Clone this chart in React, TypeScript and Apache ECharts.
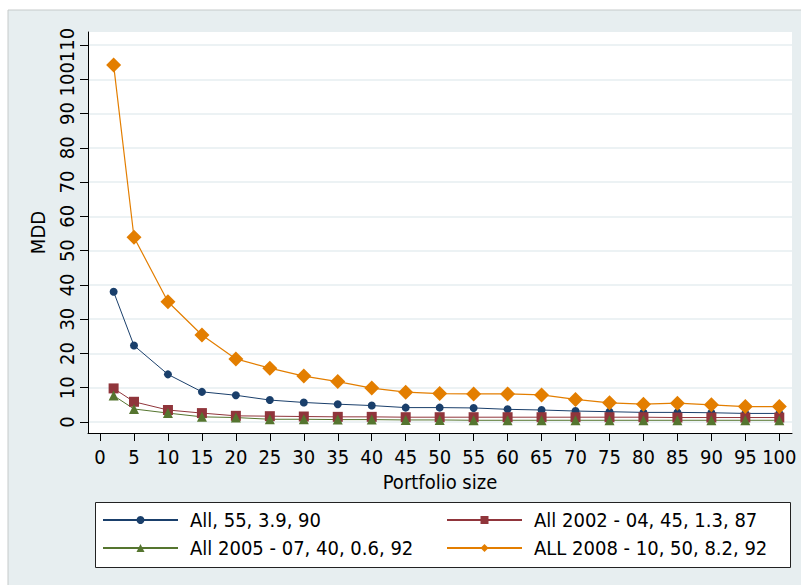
import React, { useEffect, useRef } from "react";
import * as echarts from "echarts";

const portfolioSize = [2, 5, 10, 15, 20, 25, 30, 35, 40, 45, 50, 55, 60, 65, 70, 75, 80, 85, 90, 95, 100];
const allValues = [38.0, 22.3, 13.9, 8.8, 7.8, 6.4, 5.7, 5.2, 4.8, 4.2, 4.2, 4.1, 3.7, 3.5, 3.2, 3.0, 2.8, 2.8, 2.7, 2.5, 2.5];
const all2002Values = [9.8, 5.9, 3.5, 2.6, 1.8, 1.7, 1.6, 1.5, 1.5, 1.4, 1.4, 1.4, 1.4, 1.4, 1.4, 1.4, 1.4, 1.3, 1.3, 1.3, 1.3];
const all2005Values = [7.7, 3.8, 2.6, 1.5, 1.3, 0.8, 0.8, 0.7, 0.7, 0.6, 0.6, 0.5, 0.5, 0.5, 0.5, 0.5, 0.5, 0.5, 0.5, 0.5, 0.5];
const all2008Values = [104.2, 53.9, 35.1, 25.4, 18.4, 15.7, 13.4, 11.8, 9.9, 8.7, 8.3, 8.2, 8.2, 7.9, 6.6, 5.6, 5.2, 5.5, 5.0, 4.5, 4.5];

const xTicks = [0, 5, 10, 15, 20, 25, 30, 35, 40, 45, 50, 55, 60, 65, 70, 75, 80, 85, 90, 95, 100];
const yTicks = [0, 10, 20, 30, 40, 50, 60, 70, 80, 90, 100, 110];

const seriesNames = [
  "All, 55, 3.9, 90",
  "All 2002 - 04, 45, 1.3, 87",
  "All 2005 - 07, 40, 0.6, 92",
  "ALL 2008 - 10, 50, 8.2, 92",
];

const FONT = "'Liberation Sans Narrow', 'Arial Narrow', 'DejaVu Sans Condensed', sans-serif";

function pairs(ys: number[]) {
  return portfolioSize.map((x, i) => [x, ys[i]]);
}

export default function App() {
  const ref = useRef<HTMLDivElement>(null);
  useEffect(() => {
    if (!ref.current) return;
    const chart = echarts.init(ref.current, undefined, { renderer: "svg" });
    const txt = { fontFamily: FONT, fontSize: 20, color: "#000" };
    const mk = (name: string, data: number[], color: string, symbol: string, size: number, width: number) => ({
      name,
      type: "line",
      data: pairs(data),
      symbol,
      symbolSize: size,
      showSymbol: true,
      lineStyle: { color, width },
      itemStyle: { color },
      z: 3,
    });
    const legendCommon = {
      orient: "vertical",
      top: 505,
      itemWidth: 75,
      itemHeight: 10,
      itemGap: 8,
      textStyle: { ...txt, padding: [0, 0, 0, 7] },
    };
    chart.setOption({
      animation: false,
      graphic: [
        {
          type: "rect",
          z: -100,
          shape: { x: 8, y: 10, width: 800, height: 580 },
          style: { fill: "#e7eef0", stroke: "#c6caca", lineWidth: 1 },
        },
        {
          type: "rect",
          z: -50,
          shape: { x: 95.5, y: 502.5, width: 695, height: 65 },
          style: { fill: "#ffffff", stroke: "#222", lineWidth: 1 },
        },
      ],
      grid: {
        left: 88,
        top: 32,
        right: 9,
        bottom: 152,
        show: true,
        backgroundColor: "#ffffff",
        borderWidth: 0,
      },
      xAxis: {
        type: "value",
        min: -1.77,
        max: 101.87,
        name: "Portfolio size",
        nameLocation: "middle",
        nameGap: 32,
        nameTextStyle: txt,
        axisLine: { show: true, onZero: false, lineStyle: { color: "#000", width: 1 } },
        axisTick: { show: true, length: 8, customValues: xTicks, lineStyle: { color: "#000" } },
        axisLabel: { customValues: xTicks, margin: 14, ...txt },
        splitLine: { show: false },
      },
      yAxis: {
        type: "value",
        min: -3.21,
        max: 113.8,
        name: "MDD",
        nameLocation: "middle",
        nameGap: 40,
        nameTextStyle: txt,
        axisLine: { show: true, onZero: false, lineStyle: { color: "#000", width: 1 } },
        axisTick: { show: true, length: 8, customValues: yTicks, lineStyle: { color: "#000" } },
        axisLabel: { customValues: yTicks, margin: 11, rotate: 90, ...txt },
        splitLine: { show: true, lineStyle: { color: "#e6eef0", width: 1.5 } },
      },
      legend: [
        { ...legendCommon, data: [seriesNames[0], seriesNames[2]], left: 97 },
        { ...legendCommon, data: [seriesNames[1], seriesNames[3]], left: 441 },
      ],
      series: [
        mk(seriesNames[0], allValues, "#1a3f6b", "circle", 8, 1),
        mk(seriesNames[1], all2002Values, "#90353b", "rect", 10, 1),
        mk(seriesNames[2], all2005Values, "#55752f", "triangle", 10, 1),
        mk(seriesNames[3], all2008Values, "#e37e00", "diamond", 15, 1.2),
      ],
    });
    return () => chart.dispose();
  }, []);
  return (
    <div
      ref={ref}
      style={{ position: "absolute", left: 0, top: 0, width: 801, height: 585, background: "#fff" }}
    />
  );
}
